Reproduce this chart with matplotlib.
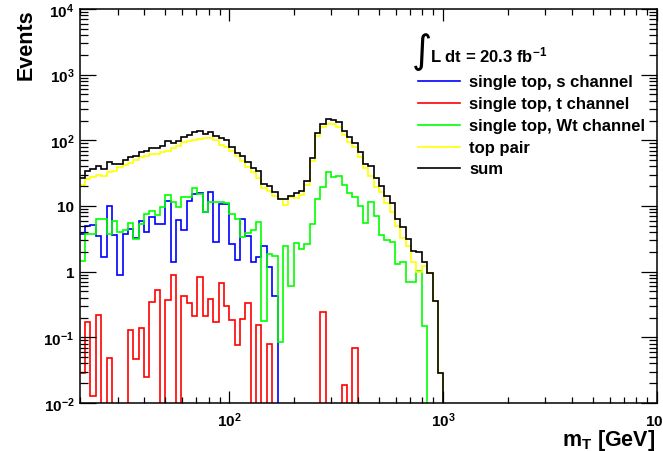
import numpy as np
import matplotlib
matplotlib.use("Agg")
import matplotlib.pyplot as plt
from matplotlib.lines import Line2D
from matplotlib.ticker import FixedLocator, LogLocator, NullFormatter

# Transverse-mass histograms: 40 logarithmic bins per decade, first bin edge 10^1.3 GeV.
# Listed bins cover 20 GeV .. 1 TeV; bins above are empty.
s_channel = [3.75, 4.9, 5.1, 3.46, 1.7, 9.9, 3.6, 0.9, 3.75, 4.5,
             3.2, 6.0, 4.0, 6.8, 5.3, 5.3, 12.0, 1.39, 6.2, 4.3,
             11.8, 15.2, 15.7, 8.0, 16.2, 2.8, 10.8, 10.8, 2.6, 1.5,
             6.3, 3.5, 1.39, 1.66, 2.5, 1.17, 0.42]
t_channel = [0.029, 0.17, 0.013, 0.22, 0, 0.049, 0, 0, 0, 0.131,
             0.047, 0.137, 0.025, 0.34, 0.53, 0, 0.375, 0.9, 0, 0.42,
             0.33, 0.21, 0.82, 0.21, 0.39, 0.17, 0.67, 0.30, 0.186, 0.077,
             0.19, 0.33, 0, 0.155, 0, 0.079, 0, 0, 0, 0,
             0, 0, 0, 0, 0, 0.24, 0, 0, 0, 0.019,
             0, 0.068]
wt_channel = [1.47, 3.75, 3.8, 6.3, 6.3, 3.75, 6.0, 4.0, 4.3, 5.5,
              3.15, 5.4, 7.6, 8.3, 7.4, 9.8, 14.9, 11.4, 9.6, 13.6,
              13.8, 18.8, 15.2, 8.0, 11.7, 11.7, 11.7, 11.0, 7.6, 6.3,
              3.4, 3.84, 4.3, 5.65, 0.18, 1.86, 1.75, 0.086, 2.5, 0.61,
              2.7, 2.2, 2.65, 5.3, 12.8, 19.3, 33.0, 27.4, 28.3, 21.0,
              15.8, 13.6, 10.1, 5.5, 11.7, 7.1, 3.6, 3.07, 2.86, 1.31,
              1.42, 0.69, 0.69, 1.03, 0.15]
top_pair = [21.1, 25.8, 28.0, 30.0, 29.0, 32.7, 34.5, 39.0, 41.7, 44.8,
            50.5, 55.0, 58.0, 62.0, 62.0, 66.0, 69.7, 76.0, 83.0, 93.0,
            96.0, 100.0, 105.0, 108.0, 108.0, 100.0, 86.0, 80.0, 70.0, 57.0,
            48.0, 39.0, 32.6, 26.7, 18.8, 17.0, 14.4, 12.8, 10.5, 13.8,
            13.2, 14.9, 21.0, 49.0, 118.0, 158.0, 177.0, 180.0, 160.0, 119.0,
            95.0, 79.0, 56.0, 38.0, 29.0, 19.6, 16.4, 11.3, 8.2, 5.0,
            3.3, 2.46, 1.39, 0.98, 1.24, 0.95, 0.36, 0.029]

labels = ["single top, s channel", "single top, t channel",
          "single top, Wt channel", "top pair", "sum"]
colors = ["#0000ff", "#ff0000", "#00ff00", "#ffff00", "#000000"]

x_ticks = [1e2, 1e3, 1e4]
x_ticklabels = [r"$10^{2}$", r"$10^{3}$", r"$10^{4}$"]
y_ticks = [1e-2, 1e-1, 1, 10, 1e2, 1e3, 1e4]
y_ticklabels = [r"$10^{-2}$", r"$10^{-1}$", "1", "10", r"$10^{2}$", r"$10^{3}$", r"$10^{4}$"]

plt.rcParams.update({
    "font.family": ["Liberation Sans", "DejaVu Sans"],
    "font.weight": "bold",
    "mathtext.fontset": "custom",
    "mathtext.rm": "Liberation Sans:bold",
    "mathtext.it": "Liberation Sans:bold",
    "mathtext.bf": "Liberation Sans:bold",
    "mathtext.default": "rm",
})

W, H = 663, 452
n_bins = 108
edges = 10 ** (np.arange(52, 52 + n_bins + 1) / 40.0)


def full_range(vals):
    out = np.zeros(n_bins)
    out[:len(vals)] = vals
    return out


series = [full_range(v) for v in (s_channel, t_channel, wt_channel, top_pair)]
series.append(np.sum(series, axis=0))

fig = plt.figure(figsize=(W / 100, H / 100), dpi=100)
ax_l, ax_r, ax_t, ax_b = 80, 657, 10, 404
ax = fig.add_axes([ax_l / W, (H - ax_b) / H, (ax_r - ax_l) / W, (ax_b - ax_t) / H])

floor = 1e-3  # empty bins are drawn down to the bottom of the frame
for vals, col in zip(series, colors):
    ax.stairs(np.clip(vals, floor, None), edges, baseline=None,
              color=col, lw=1.2)

ax.set_xscale("log")
ax.set_yscale("log")
ax.set_xlim(20, 1e4)
ax.set_ylim(1e-2, 1e4)

ax.xaxis.set_major_locator(FixedLocator(x_ticks))
ax.set_xticklabels(x_ticklabels)
ax.xaxis.set_minor_locator(LogLocator(base=10, subs=np.arange(2, 10), numticks=100))
ax.xaxis.set_minor_formatter(NullFormatter())
ax.yaxis.set_major_locator(FixedLocator(y_ticks))
ax.set_yticklabels(y_ticklabels)
ax.yaxis.set_minor_locator(LogLocator(base=10, subs=np.arange(2, 10), numticks=100))
ax.yaxis.set_minor_formatter(NullFormatter())

ax.tick_params(which="both", direction="in", top=True, right=True,
               width=0.9, labelsize=11)
ax.tick_params(axis="x", which="major", length=8.6, pad=5)
ax.tick_params(axis="x", which="minor", length=4.3)
ax.tick_params(axis="y", which="major", length=11.5, pad=4)
ax.tick_params(axis="y", which="minor", length=5.8)
for sp in ax.spines.values():
    sp.set_linewidth(1.1)

fig.text(26 / W, 1 - 9 / H, "Events", rotation=90, ha="center", va="top",
         fontsize=15.5, fontweight="bold")
fig.text(655 / W, 1 - 446 / H, r"m$_{T}$ [GeV]", ha="right", va="baseline",
         fontsize=15.5, fontweight="bold")

# luminosity label and legend
fig.text(412 / W, 1 - 52 / H, "\u222b", family="DejaVu Sans", fontsize=28,
         ha="left", va="center", fontweight="normal")
fig.text(430 / W, 1 - 62 / H, r"L dt = 20.3 fb$^{-1}$", ha="left",
         va="baseline", fontsize=12, fontweight="bold")
rows = [82, 104, 126, 147.5, 169]
for lab, col, ry in zip(labels, colors, rows):
    fig.add_artist(Line2D([418 / W, 460 / W], [1 - ry / H, 1 - ry / H],
                          color=col, lw=1.2, transform=fig.transFigure))
    fig.text(469 / W, 1 - (ry + 5) / H, lab, ha="left", va="baseline",
             fontsize=12, fontweight="bold")

fig.savefig("out.png", dpi=100)
